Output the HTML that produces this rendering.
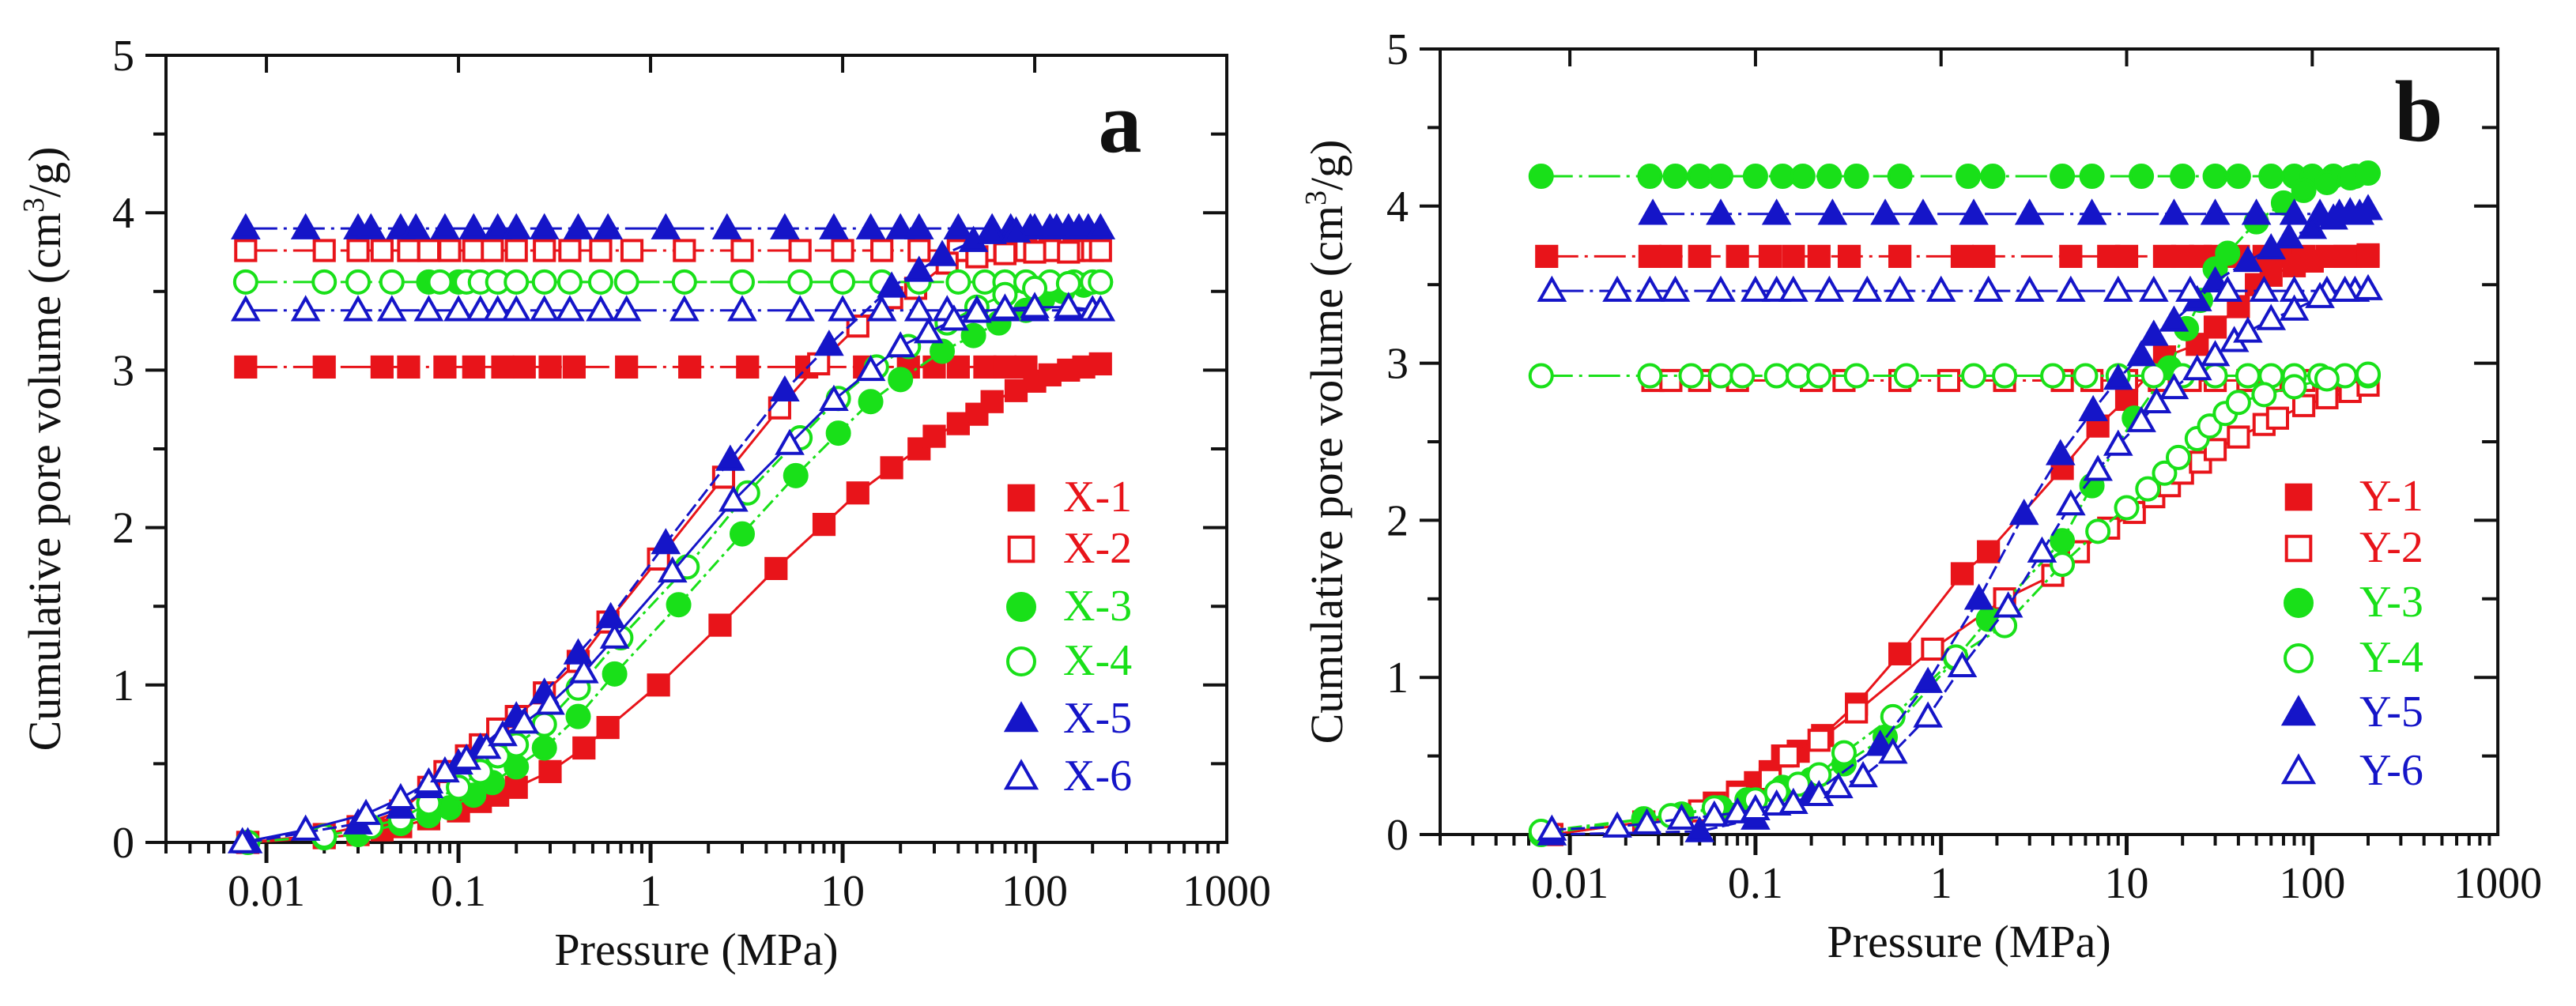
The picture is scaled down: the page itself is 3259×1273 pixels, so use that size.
<!DOCTYPE html>
<html><head><meta charset="utf-8"><style>
html,body{margin:0;padding:0;background:#fff;}
svg{display:block;font-family:"Liberation Serif",serif;}
</style></head><body>
<svg id="chart" width="3259" height="1273" viewBox="0 0 3259 1273">
<rect x="0" y="0" width="3259" height="1273" fill="#fff"/>
<g id="pa"></g>
<g id="pb"></g>
</svg>
<script>
// ---- Panel a data ----
const x1P=[0.008,0.02,0.03,0.04,0.05,0.07,0.1,0.13,0.16,0.2,0.3,0.45,0.6,1.1,2.3,4.5,8,12,18,25,30,40,50,60,80,100,120,150,180,220];
const x1V=[0,0.03,0.05,0.08,0.1,0.15,0.2,0.26,0.3,0.35,0.45,0.6,0.73,1.0,1.38,1.74,2.02,2.22,2.38,2.5,2.58,2.66,2.72,2.8,2.87,2.93,2.97,3.0,3.02,3.04];
const x1L=3.02;
const x1E=[0.0078,0.02,0.04,0.055,0.085,0.12,0.17,0.22,0.3,0.4,0.75,1.6,3.2,6.5,13,22,30,40,55,70,90];
const x2P=[0.008,0.02,0.03,0.05,0.07,0.085,0.11,0.13,0.16,0.2,0.28,0.42,0.6,1.1,2.4,4.7,7.5,12,18,24,35,50,70,100,150,220];
const x2V=[0,0.05,0.1,0.2,0.35,0.45,0.55,0.62,0.72,0.8,0.95,1.15,1.4,1.8,2.32,2.76,3.04,3.28,3.46,3.52,3.68,3.72,3.74,3.75,3.75,3.76];
const x2L=3.76;
const x2E=[0.0078,0.02,0.03,0.04,0.055,0.07,0.09,0.12,0.15,0.2,0.28,0.38,0.55,0.8,1.5,3,6,10,16,25,40,55,70,90,120,160,200];
const x3P=[0.02,0.03,0.05,0.07,0.09,0.12,0.15,0.2,0.28,0.42,0.65,1.4,3,5.7,9.5,14,20,33,48,65,90,110,140,180,220];
const x3V=[0.03,0.05,0.12,0.17,0.22,0.3,0.38,0.48,0.6,0.8,1.07,1.51,1.96,2.33,2.6,2.8,2.94,3.12,3.22,3.3,3.38,3.45,3.5,3.54,3.56];
const x3L=3.56;
const x3E=[0.07,0.1];
const x4P=[0.008,0.02,0.035,0.05,0.07,0.1,0.13,0.16,0.2,0.28,0.42,0.7,1.55,3.2,6,9.5,15,22,35,50,70,100,150,220];
const x4V=[0,0.04,0.1,0.15,0.25,0.35,0.45,0.55,0.62,0.75,0.98,1.3,1.75,2.22,2.57,2.82,3.02,3.15,3.3,3.4,3.48,3.52,3.55,3.56];
const x4L=3.56;
const x4E=[0.0078,0.02,0.03,0.045,0.08,0.11,0.13,0.16,0.2,0.28,0.38,0.55,0.75,1.5,3,6,10,16,25,40,55,70,90,120,160,200];
const x5P=[0.008,0.03,0.05,0.07,0.1,0.13,0.2,0.28,0.42,0.62,1.2,2.6,5,8.5,18,25,33,48,60,80,100,130,170,220];
const x5V=[0,0.12,0.22,0.35,0.5,0.6,0.8,0.95,1.2,1.43,1.9,2.43,2.87,3.16,3.53,3.63,3.73,3.82,3.87,3.88,3.9,3.9,3.9,3.9];
const x5L=3.9;
const x5E=[0.0078,0.016,0.03,0.035,0.05,0.06,0.085,0.12,0.16,0.2,0.28,0.42,0.6,1.2,2.5,5,9,14,20,25,40,60,75,95,120,150,190];
const x6P=[0.0075,0.016,0.033,0.05,0.07,0.085,0.11,0.14,0.17,0.22,0.3,0.45,0.65,1.3,2.7,5.3,9,14,20,28,38,50,70,100,150,220];
const x6V=[0,0.08,0.18,0.28,0.38,0.45,0.53,0.6,0.68,0.76,0.88,1.08,1.3,1.72,2.17,2.53,2.81,3.0,3.15,3.24,3.32,3.37,3.39,3.4,3.4,3.38];
const x6L=3.38;
const x6E=[0.0078,0.016,0.03,0.045,0.07,0.1,0.13,0.16,0.2,0.28,0.38,0.55,0.75,1.5,3,6,10,16,25,35,50,70,100,150,200];
// ---- Panel b data ----
const y1P=[0.008,0.025,0.04,0.06,0.08,0.1,0.12,0.14,0.17,0.23,0.35,0.6,1.3,1.8,4.5,7,10,16,24,30,40,50,60,80,100,150,200];
const y1V=[0,0.08,0.12,0.2,0.27,0.33,0.4,0.5,0.53,0.63,0.83,1.15,1.66,1.8,2.33,2.6,2.77,3.04,3.12,3.23,3.36,3.5,3.56,3.62,3.65,3.68,3.69];
const y1L=3.68;
const y1E=[0.0075,0.027,0.035,0.05,0.08,0.12,0.16,0.22,0.32,0.6,1.3,1.7,5,8,10,16,20,25,30,40,55,70,90,120,160,200];
const y2P=[0.008,0.025,0.05,0.08,0.12,0.15,0.22,0.35,0.9,2.2,4,5.5,8,11,14,17,20,25,30,40,55,65,90,120,160,200];
const y2V=[0,0.08,0.15,0.25,0.35,0.5,0.6,0.78,1.18,1.5,1.65,1.8,1.95,2.05,2.15,2.22,2.3,2.37,2.45,2.53,2.61,2.65,2.73,2.78,2.82,2.86];
const y2L=2.89;
const y2E=[0.028,0.035,0.05,0.08,0.2,0.3,0.6,1.1,2.2,4.5,6.5,10,15,22,30,45,60,90,130];
const y3P=[0.007,0.025,0.04,0.065,0.09,0.14,0.2,0.3,0.5,1.2,1.8,4.5,6.5,11,17,21,25,30,35,50,70,90,120,160,200];
const y3V=[0,0.1,0.13,0.17,0.22,0.3,0.35,0.45,0.62,1.12,1.37,1.87,2.22,2.65,2.97,3.22,3.4,3.6,3.7,3.9,4.02,4.1,4.15,4.18,4.21];
const y3L=4.19;
const y3E=[0.007,0.027,0.037,0.05,0.065,0.1,0.14,0.18,0.25,0.35,0.6,1.4,1.9,4.5,6.5,12,20,30,40,60,80,100,130,170];
const y4P=[0.007,0.035,0.06,0.1,0.13,0.17,0.22,0.3,0.55,1.2,2.2,4.5,7,10,13,16,19,24,28,34,40,55,80,120,200];
const y4V=[0.02,0.12,0.17,0.22,0.27,0.32,0.38,0.52,0.75,1.13,1.33,1.72,1.93,2.08,2.2,2.3,2.4,2.52,2.6,2.68,2.75,2.8,2.85,2.9,2.93];
const y4L=2.92;
const y4E=[0.007,0.027,0.045,0.065,0.085,0.13,0.17,0.22,0.35,0.65,1.5,2.2,4,6,9,14,20,30,45,60,80,110,150,200];
const y5P=[0.008,0.05,0.1,0.2,0.47,0.85,1.6,2.8,4.4,6.6,9,12,14,18,24,30,45,60,75,100,130,160,200];
const y5V=[0,0.02,0.1,0.25,0.57,0.97,1.5,2.04,2.42,2.7,2.9,3.05,3.18,3.27,3.4,3.52,3.65,3.73,3.8,3.86,3.92,3.96,3.98];
const y5L=3.95;
const y5E=[0.028,0.065,0.13,0.26,0.5,0.8,1.5,3,6.5,18,30,50,80,110,140,180];
const y6P=[0.008,0.018,0.026,0.04,0.06,0.08,0.1,0.13,0.16,0.22,0.28,0.38,0.55,0.85,1.3,2.3,3.5,5,7,9,12,14.5,18,24,30,38,45,60,80,110,150,200];
const y6V=[0.03,0.05,0.07,0.1,0.12,0.14,0.16,0.19,0.2,0.25,0.3,0.37,0.52,0.75,1.07,1.45,1.8,2.1,2.32,2.48,2.63,2.75,2.84,2.96,3.05,3.14,3.2,3.28,3.34,3.42,3.46,3.47];
const y6L=3.46;
const y6E=[0.008,0.018,0.027,0.037,0.065,0.1,0.13,0.16,0.25,0.4,0.6,1,1.8,3,5,9,14,22,35,55,80,120,170];
// ---- ticks ----
const xTickVals=[0.01,0.1,1,10,100,1000];
const xTickLabels=["0.01","0.1","1","10","100","1000"];
const yTickVals=[0,1,2,3,4,5];
const yTickLabels=["0","1","2","3","4","5"];

const NS="http://www.w3.org/2000/svg";
const RED="#e8141a",GREEN="#19e019",BLUE="#1515c8";
function mk(parent,tag,attrs){const e=document.createElementNS(NS,tag);for(const k in attrs)e.setAttribute(k,attrs[k]);parent.appendChild(e);return e;}

function panel(g,cfg,series,letter,legendNames){
  const X=p=>cfg.x0+(Math.log10(p)-Math.log10(cfg.pmin))*cfg.dec;
  const Y=v=>cfg.y0-v*cfg.uy;
  const x1=X(1000), yT=Y(5);
  const fr=mk(g,'rect',{x:cfg.x0,y:yT,width:x1-cfg.x0,height:cfg.y0-yT,fill:'none',stroke:'#111','stroke-width':4});
  
  
  const lo=Math.floor(Math.log10(cfg.pmin));
  for(let d=lo;d<3;d++){for(let m=1;m<10;m++){const p=m*Math.pow(10,d);if(p<cfg.pmin*0.999)continue;const x=X(p);
    const major=m===1;
    const t=mk(g,'line',{x1:x,x2:x,y1:cfg.y0,y2:cfg.y0+(major?26:14),stroke:'#111','stroke-width':major?5:4});
    
    
    if(major){const tt=mk(g,'line',{x1:x,x2:x,y1:yT,y2:yT+22,stroke:'#111','stroke-width':4});
      
      }
  }}
  xTickVals.forEach((v,i)=>{const t=mk(g,'text',{x:X(v),y:cfg.y0+80,'font-size':56,'text-anchor':'middle',fill:'#111'});t.textContent=xTickLabels[i];
    
    });
  for(let k=0;k<=10;k++){const v=k/2,y=Y(v),major=k%2===0;
    const t=mk(g,'line',{x1:cfg.x0-(major?26:16),x2:cfg.x0,y1:y,y2:y,stroke:'#111','stroke-width':4});
    
    
    const t2=mk(g,'line',{x1:x1-(major?30:20),x2:x1,y1:y,y2:y,stroke:'#111','stroke-width':4});
    
    }
  yTickVals.forEach((v,i)=>{const t=mk(g,'text',{x:cfg.x0-40,y:Y(v)+19,'font-size':56,'text-anchor':'end',fill:'#111'});t.textContent=yTickLabels[i];
    
    });
  const xt=mk(g,'text',{x:(cfg.x0+x1)/2,y:cfg.y0+155,'font-size':58,'text-anchor':'middle',fill:'#111'});xt.textContent='Pressure (MPa)';
  
  
  const yc=(cfg.y0+yT)/2;
  const yt=mk(g,'text',{x:cfg.ytx,y:yc,'font-size':58,'text-anchor':'middle',fill:'#111',transform:`rotate(-90 ${cfg.ytx} ${yc})`});
  yt.innerHTML='Cumulative pore volume (cm<tspan baseline-shift="super" font-size="38">3</tspan>/g)';
  
  
  const lt=mk(g,'text',{x:cfg.letX,y:cfg.letY,'font-size':110,'font-weight':'bold','text-anchor':'middle',fill:'#111'});lt.textContent=letter;
  
  

  function marker(parent,s,x,y,sz){
    let e;const st={stroke:s.c,'stroke-width':4,fill:s.f?s.c:'#fff'};
    if(s.shape==='sq')e=mk(parent,'rect',Object.assign({x:x-sz*0.45,y:y-sz*0.45,width:sz*0.9,height:sz*0.9},st));
    else if(s.shape==='ci')e=mk(parent,'circle',Object.assign({cx:x,cy:y,r:sz*0.5},st));
    else e=mk(parent,'polygon',Object.assign({points:`${x},${y-sz*0.55} ${x-sz*0.55},${y+sz*0.42} ${x+sz*0.55},${y+sz*0.42}`},st));
    return e;
  }
  series.forEach((s,si)=>{
    const sg=mk(g,'g',{});
    
    
    const ip=s.P.map((p,i)=>X(p)+','+Y(s.V[i])).join(' ');
    const l=mk(sg,'polyline',{points:ip,fill:'none',stroke:s.c,'stroke-width':3,'stroke-dasharray':s.dash});
    
    
    const eAll=s.E.concat([s.P[s.P.length-1]]);
    const emin=Math.min.apply(null,eAll),emax=Math.max.apply(null,eAll);
    const el=mk(sg,'line',{x1:X(emin),x2:X(emax),y1:Y(s.L),y2:Y(s.L),stroke:s.c,'stroke-width':3,'stroke-dasharray':'40,8,4,8'});
    
    
    s.E.forEach(p=>{const m=marker(sg,s,X(p),Y(s.L),cfg.ms);
      
      });
    s.P.forEach((p,i)=>{const m=marker(sg,s,X(p),Y(s.V[i]),cfg.ms);
      
      });
    const ly=cfg.legY[si];
    const lm=marker(g,s,cfg.legMX,ly-17,34);
    
    
    const lx=mk(g,'text',{x:cfg.legTX,y:ly,'font-size':56,fill:s.c});lx.textContent=legendNames[si];
    
    
  });
}

panel(document.getElementById('pa'),
 {x0:210,pmin:0.003,dec:243,y0:1066,uy:199.2,ytx:76,letX:1417,letY:192,ms:28,legMX:1292,legTX:1345,legY:[647,712,785,854,927,1000]},
 [{P:x1P,V:x1V,L:x1L,E:x1E,c:RED,shape:'sq',f:true,dash:'none'},
  {P:x2P,V:x2V,L:x2L,E:x2E,c:RED,shape:'sq',f:false,dash:'none'},
  {P:x3P,V:x3V,L:x3L,E:x3E,c:GREEN,shape:'ci',f:true,dash:'18,6,4,6'},
  {P:x4P,V:x4V,L:x4L,E:x4E,c:GREEN,shape:'ci',f:false,dash:'18,6,4,6'},
  {P:x5P,V:x5V,L:x5L,E:x5E,c:BLUE,shape:'tr',f:true,dash:'18,6'},
  {P:x6P,V:x6V,L:x6L,E:x6E,c:BLUE,shape:'tr',f:false,dash:'none'}],
 'a',['X-1','X-2','X-3','X-4','X-5','X-6']);

panel(document.getElementById('pb'),
 {x0:1822,pmin:0.002,dec:234.8,y0:1056,uy:198.8,ytx:1698,letX:3060,letY:178,ms:28,legMX:2908,legTX:2985,legY:[646,711,780,850,919,993]},
 [{P:y1P,V:y1V,L:y1L,E:y1E,c:RED,shape:'sq',f:true,dash:'none'},
  {P:y2P,V:y2V,L:y2L,E:y2E,c:RED,shape:'sq',f:false,dash:'none'},
  {P:y3P,V:y3V,L:y3L,E:y3E,c:GREEN,shape:'ci',f:true,dash:'18,6,4,6'},
  {P:y4P,V:y4V,L:y4L,E:y4E,c:GREEN,shape:'ci',f:false,dash:'18,6,4,6'},
  {P:y5P,V:y5V,L:y5L,E:y5E,c:BLUE,shape:'tr',f:true,dash:'18,6'},
  {P:y6P,V:y6V,L:y6L,E:y6E,c:BLUE,shape:'tr',f:false,dash:'18,6'}],
 'b',['Y-1','Y-2','Y-3','Y-4','Y-5','Y-6']);
</script>
</body></html>
